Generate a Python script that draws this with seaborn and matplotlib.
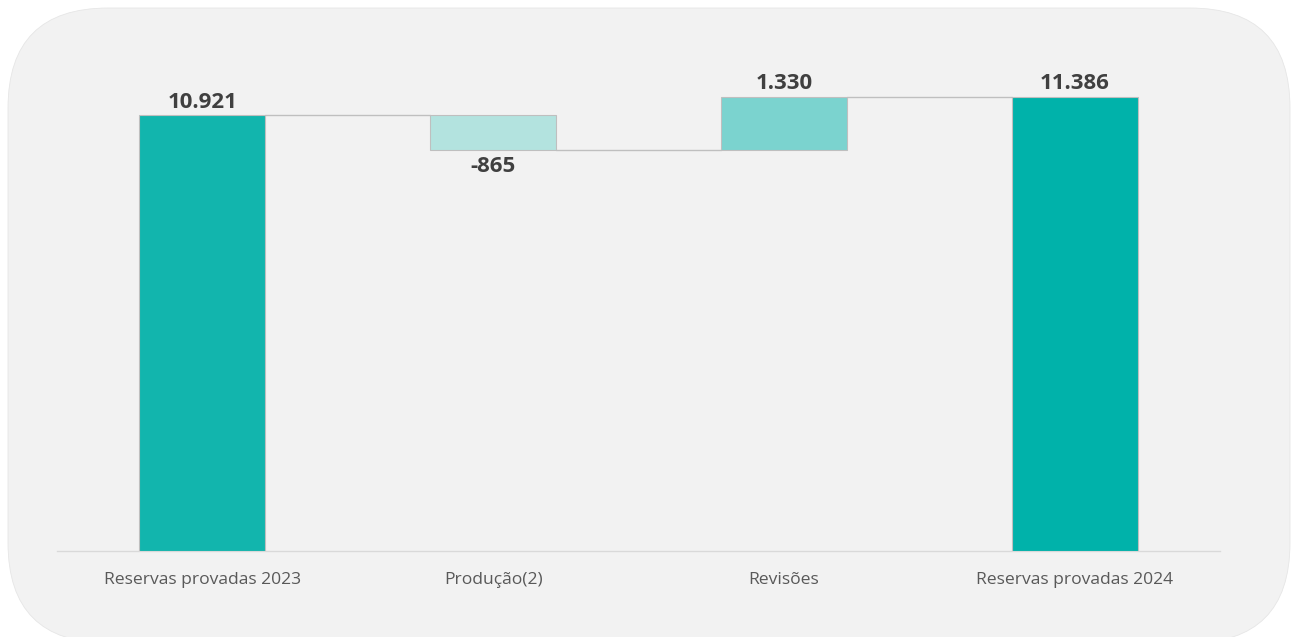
import matplotlib
matplotlib.use("Agg")
import matplotlib.pyplot as plt
from matplotlib.patches import FancyBboxPatch
import seaborn as sns
import pandas as pd

# Waterfall of proved reserves
categories = ["Reservas provadas 2023", "Produção(2)", "Revisões", "Reservas provadas 2024"]
changes = [10921, -865, 1330, 11386]
kinds = ["total", "delta", "delta", "total"]
bar_colors = ["#12b5ad", "#b3e3df", "#7bd3cf", "#00b2aa"]
value_labels = ["10.921", "-865", "1.330", "11.386"]

# Compute floating bar bottoms/heights
bottoms, heights = [], []
running = 0
for v, k in zip(changes, kinds):
    if k == "total":
        bottoms.append(0)
        heights.append(v)
        running = v
    else:
        if v >= 0:
            bottoms.append(running)
            heights.append(v)
        else:
            bottoms.append(running + v)
            heights.append(-v)
        running += v

df = pd.DataFrame({"cat": categories, "height": heights, "bottom": bottoms})

sns.set_theme(style="white")
plt.rcParams["font.family"] = ["Open Sans", "DejaVu Sans"]

W, H = 1292, 637
fig = plt.figure(figsize=(W / 100, H / 100), dpi=100)
fig.patch.set_facecolor("white")

# Rounded panel behind the chart
panel = FancyBboxPatch((8 / W, -6 / H), (W - 10) / W, (H - 2) / H,
                       boxstyle="round,pad=0,rounding_size=0.0775",
                       transform=fig.transFigure, facecolor="#f2f2f2",
                       edgecolor="#e6e6e6", linewidth=0.6,
                       mutation_aspect=W / H, zorder=-5)
fig.patches.append(panel)

ax = fig.add_axes([57 / W, 1 - 551 / H, (1220 - 57) / W, (551 - 60.5) / H])
ax.set_zorder(2)
ax.patch.set_visible(False)

sns.barplot(data=df, x="cat", y="height", order=categories, bottom=df["bottom"].values,
            width=0.434, color=bar_colors[0], edgecolor="#bfbfbf", linewidth=0.8,
            ax=ax, zorder=3)
for p, c in zip(ax.patches, bar_colors):
    p.set_facecolor(c)

ax.set_xlim(-0.5, 3.5)
ax.set_ylim(0, 12300)

# Connector lines between bars
half = 0.434 / 2
levels = []
running = 0
for v, k in zip(changes, kinds):
    running = v if k == "total" else running + v
    levels.append(running)
for i in range(len(categories) - 1):
    ax.plot([i + half, i + 1 - half], [levels[i], levels[i]], color="#bfbfbf",
            linewidth=1.0, zorder=2)

# Value labels
for i, (v, k, lab) in enumerate(zip(changes, kinds, value_labels)):
    top = bottoms[i] + heights[i]
    if v >= 0:
        ax.annotate(lab, (i, top), xytext=(0, 2), textcoords="offset points",
                    ha="center", va="bottom", fontsize=16, fontweight="bold",
                    color="#404040")
    else:
        ax.annotate(lab, (i, bottoms[i]), xytext=(0, -4), textcoords="offset points",
                    ha="center", va="top", fontsize=16, fontweight="bold",
                    color="#404040")

for s in ["top", "right", "left"]:
    ax.spines[s].set_visible(False)
ax.spines["bottom"].set_color("#d9d9d9")
ax.spines["bottom"].set_linewidth(1.0)
ax.set_yticks([])
ax.set_xlabel("")
ax.set_ylabel("")
ax.tick_params(axis="x", length=0, pad=15, labelsize=12.6, labelcolor="#595959")

fig.savefig("out.png", dpi=100, facecolor="white")
